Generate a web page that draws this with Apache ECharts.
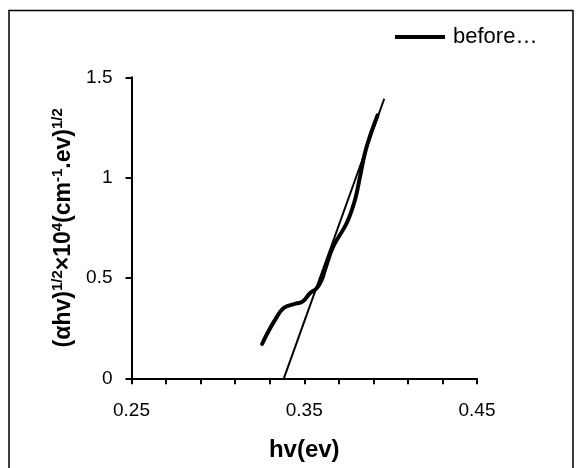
<!DOCTYPE html>
<html>
<head>
<meta charset="utf-8">
<script src="https://cdn.jsdelivr.net/npm/echarts@6/dist/echarts.min.js"></script>
<style>
html,body{margin:0;padding:0;background:#fff;}
#chart{width:579px;height:468px;}
</style>
</head>
<body>
<div id="chart"></div>
<script>
// Data
var hvCurve = [0.3256, 0.3292, 0.3331, 0.3379, 0.3440, 0.3490, 0.3533, 0.3572, 0.3601, 0.3620, 0.3668, 0.3746, 0.3794, 0.3823, 0.3851, 0.3880, 0.3924];
var yCurve  = [0.171, 0.233, 0.291, 0.349, 0.370, 0.382, 0.424, 0.449, 0.491, 0.541, 0.657, 0.774, 0.890, 1.006, 1.122, 1.206, 1.310];
var hvLine = [0.3382, 0.3963];
var yLine  = [0.0, 1.393];
var seriesName = 'before…';
var xTicks = {min: 0.25, max: 0.45, interval: 0.1};
var yTicks = {min: 0, max: 1.5, interval: 0.5};

function pairs(xs, ys){ return xs.map(function(x,i){ return [x, ys[i]]; }); }

var chart = echarts.init(document.getElementById('chart'), null, {renderer:'canvas'});
var font = 'Liberation Sans, Arial, sans-serif';
chart.setOption({
  backgroundColor: '#fff',
  animation: false,
  graphic: [{
    type: 'rect', silent: true, z: -1,
    shape: {x: 9, y: 10.5, width: 564, height: 480},
    style: {fill: 'none', stroke: '#000', lineWidth: 1.5}
  }],
  legend: {
    data: [{name: seriesName, icon: 'rect'}],
    left: 395, top: 26, padding: 0,
    itemWidth: 50, itemHeight: 4, itemGap: 8,
    textStyle: {fontFamily: font, fontSize: 22, color: '#000', padding: [0,0,0,3]}
  },
  grid: {left: 131.5, right: 102, top: 77.3, bottom: 89.7, containLabel: false},
  xAxis: {
    type: 'value', min: xTicks.min, max: xTicks.max, interval: xTicks.interval,
    name: 'hv(ev)', nameLocation: 'middle', nameGap: 60,
    nameTextStyle: {fontFamily: font, fontSize: 24, fontWeight: 'bold', color: '#000'},
    axisLine: {lineStyle: {color: '#000', width: 2}},
    axisTick: {show: true, inside: false, length: 6, lineStyle: {color: '#000', width: 2}},
    minorTick: {show: true, splitNumber: 5, length: 6, lineStyle: {color: '#000', width: 2}},
    splitLine: {show: false},
    axisLabel: {fontFamily: font, fontSize: 19, color: '#000', margin: 23,
      formatter: function(v){ return v.toFixed(2); }}
  },
  yAxis: {
    type: 'value', min: yTicks.min, max: yTicks.max, interval: yTicks.interval,
    name: '{m|(αhv)}{s|1/2}{m|×10}{s|4}{m|(cm}{s|-1}{m|.ev)}{s|1/2}',
    nameLocation: 'middle', nameGap: 54, nameRotate: 90,
    nameTextStyle: {
      fontFamily: font, fontWeight: 'bold', color: '#000',
      rich: {
        m: {fontFamily: font, fontSize: 23, fontWeight: 'bold', color: '#000', verticalAlign: 'bottom', lineHeight: 25},
        s: {fontFamily: font, fontSize: 15, fontWeight: 'bold', color: '#000', verticalAlign: 'top', lineHeight: 25}
      }
    },
    axisLine: {show: true, lineStyle: {color: '#000', width: 2}},
    axisTick: {show: true, inside: false, length: 6, lineStyle: {color: '#000', width: 2}},
    splitLine: {show: false},
    axisLabel: {fontFamily: font, fontSize: 19, color: '#000', margin: 19,
      formatter: function(v){ return String(v); }}
  },
  series: [
    {
      name: seriesName, type: 'line', smooth: 0.4, showSymbol: false, symbol: 'none',
      data: pairs(hvCurve, yCurve),
      lineStyle: {color: '#000', width: 4, cap: 'round', join: 'round'},
      itemStyle: {color: '#000'}
    },
    {
      name: 'fit', type: 'line', showSymbol: false, symbol: 'none',
      data: pairs(hvLine, yLine),
      lineStyle: {color: '#000', width: 2},
      itemStyle: {color: '#000'}
    }
  ]
});
</script>
</body>
</html>
